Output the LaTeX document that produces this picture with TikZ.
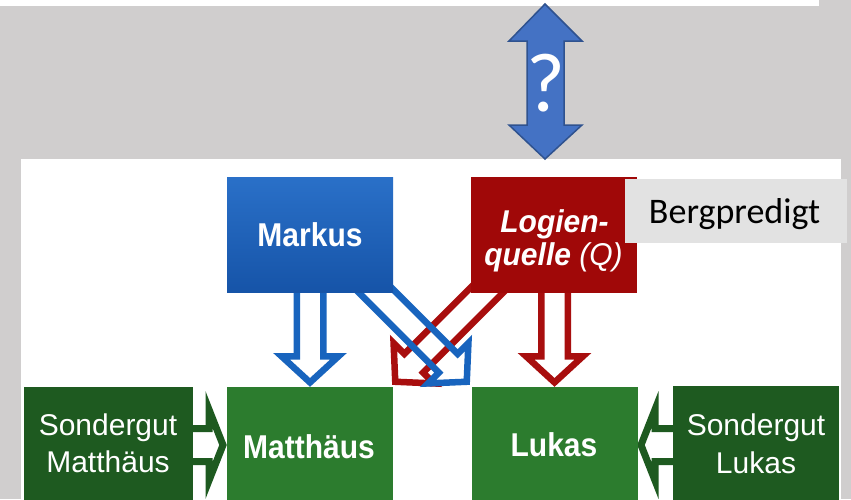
\documentclass[tikz,border=0pt]{standalone}
\usepackage{fontspec}
\usepackage{graphicx}
\setmainfont{Liberation Sans}
\newfontfamily\calfont{Carlito}
\definecolor{bg}{RGB}{208,206,206}
\definecolor{bergbg}{RGB}{226,226,226}
\definecolor{mkblueT}{RGB}{42,112,200}
\definecolor{mkblueB}{RGB}{22,84,168}
\definecolor{arrblue}{RGB}{24,100,190}
\definecolor{qred}{RGB}{160,8,8}
\definecolor{arrred}{RGB}{168,14,14}
\definecolor{evgreen}{RGB}{44,124,46}
\definecolor{sggreen}{RGB}{30,90,32}
\definecolor{qfill}{RGB}{68,114,196}
\definecolor{qborder}{RGB}{47,82,143}
\tikzset{
  box/.style={inner sep=0pt, draw=none, minimum width=166pt},
  lbl/.style={text=white, inner sep=0pt, anchor=base, align=center},
  hollow/.style={line width=6.5pt, miter limit=10, line join=miter},
  hollowg/.style={line width=7pt, miter limit=10, line join=miter, draw=sggreen}
}
% #1 tip, #2 angle, #3 length, #4 colour
\newcommand\vblockarrow[4]{%
  \begin{scope}[shift={#1}, rotate=#2]
    \draw[hollow, draw=#4] (-#3,-13.25) -- (-30.75,-13.25) -- (-30.75,-28.5) -- (-4.6,0)
      -- (-30.75,28.5) -- (-30.75,13.25) -- (-#3,13.25) -- cycle;
  \end{scope}}
\newcommand\hblockarrow[3]{%
  \begin{scope}[shift={#1}, rotate=#2]
    \draw[hollowg] (-#3,-16.5) -- (-18,-16.5) -- (-18,-35.5) -- (-4,0)
      -- (-18,35.5) -- (-18,16.5) -- (-#3,16.5) -- cycle;
  \end{scope}}
\begin{document}
\begin{tikzpicture}[x=1pt,y=-1pt]
\useasboundingbox (0,0) rectangle (851,499);
\clip (0,0) rectangle (851,499);
\fill[bg] (0,0) rectangle (851,499);
\fill[white] (0,0) rectangle (819,6);
\fill[white] (21,159) rectangle (841,510);

% anchor coordinates for arrows
\coordinate (tipM) at (310,387);
\coordinate (tipL) at (554.5,387);
\coordinate (tipB) at (470,385);
\coordinate (tipR) at (392,385);
\coordinate (tipSM) at (227,445);
\coordinate (tipSL) at (637,445);

% hollow arrows
\vblockarrow{(tipM)}{-90}{110}{arrblue}
\vblockarrow{(tipL)}{-90}{110}{arrred}
\vblockarrow{(tipR)}{-135}{158}{arrred}
\vblockarrow{(tipB)}{-45}{158}{arrblue}
\hblockarrow{(tipSM)}{0}{40}
\hblockarrow{(tipSL)}{180}{40}

% boxes
\node[box, minimum height=115pt, top color=mkblueT, bottom color=mkblueB] (markus) at (310,234.5) {};
\node[box, minimum height=116pt, fill=qred] (logien) at (554,235) {};
\node[box, minimum height=123pt, fill=evgreen] (matth) at (310,448.5) {};
\node[box, minimum height=123pt, fill=evgreen] (lukas) at (554.5,448.5) {};
\node[box, minimum width=169pt, minimum height=123pt, fill=sggreen] (sgm) at (108.5,448.5) {};
\node[box, minimum height=125pt, fill=sggreen] (sgl) at (756,448.5) {};
\node[inner sep=0pt, minimum width=222pt, minimum height=64pt, fill=bergbg] (berg) at (736,211) {};

% texts
\node[lbl] (tmarkus) at (310,246) {\fontsize{30}{36}\selectfont\scalebox{1}[1.1]{\bfseries Markus}};
\node[lbl] (tlog1) at (554.5,232) {\fontsize{30}{36}\selectfont\scalebox{1}[1.05]{\bfseries\itshape Logien-}};
\node[lbl] (tlog2) at (553.5,265) {\fontsize{30}{36}\selectfont\scalebox{1}[1.05]{\bfseries\itshape quelle \mdseries(Q)}};
\node[lbl] (tmatth) at (309,458) {\fontsize{30}{36}\selectfont\scalebox{1}[1.1]{\bfseries Matth\"aus}};
\node[lbl] (tlukas) at (554,456) {\fontsize{30}{36}\selectfont\scalebox{1}[1.1]{\bfseries Lukas}};
\node[lbl] (tsgm1) at (108,435) {\fontsize{30}{36}\selectfont Sondergut};
\node[lbl] (tsgm2) at (108,472) {\fontsize{30}{36}\selectfont Matth\"aus};
\node[lbl] (tsgl1) at (756,435) {\fontsize{30}{36}\selectfont Sondergut};
\node[lbl] (tsgl2) at (756,473) {\fontsize{30}{36}\selectfont Lukas};
\node[inner sep=0pt, anchor=base] (tberg) at (734.5,223) {\calfont\fontsize{36}{40}\selectfont Bergpredigt};

% double arrow with question mark
\draw[fill=qfill, draw=qborder, line width=1.5pt, line join=miter]
  (545,4) -- (582,41) -- (564,41) -- (564,125) -- (582,125) -- (545,159)
  -- (509,125) -- (527,125) -- (527,41) -- (509,41) -- cycle;
\node[inner sep=0pt, anchor=base, text=white] (qm) at (546,111) {\calfont\fontsize{84}{90}\selectfont ?};
\end{tikzpicture}
\end{document}
